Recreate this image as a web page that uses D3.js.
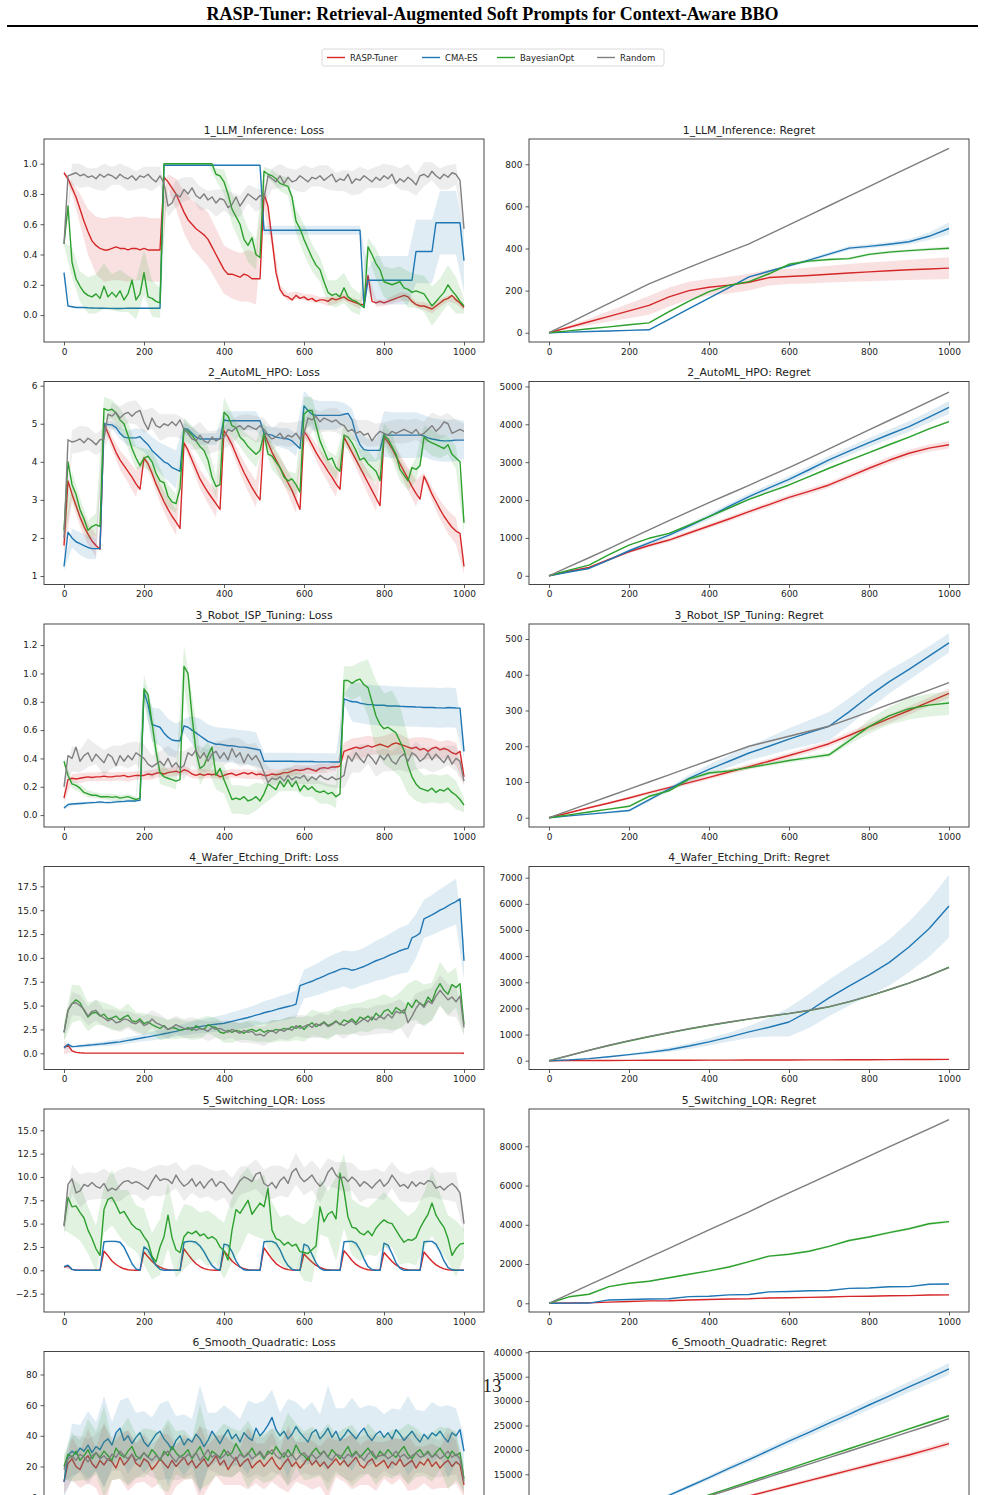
<!DOCTYPE html>
<html><head><meta charset="utf-8">
<script src="https://cdn.jsdelivr.net/npm/d3@7"></script>
<style>body{margin:0;background:#fff}svg{display:block}</style>
</head><body>
<svg id="c" width="985" height="1495"></svg>
<script>
const TITLE = "RASP-Tuner: Retrieval-Augmented Soft Prompts for Context-Aware BBO";
const methods = ["RASP-Tuner","CMA-ES","BayesianOpt","Random"];
const colors = ["#d62728","#1f77b4","#2ca02c","#7f7f7f"];
const tasks = ["1_LLM_Inference","2_AutoML_HPO","3_Robot_ISP_Tuning","4_Wafer_Etching_Drift","5_Switching_LQR","6_Smooth_Quadratic"];
const xTicks = [0,200,400,600,800,1000];
const lossSteps = d3.range(0,1001,10);
const lossSdSteps = d3.range(0,1001,20);
const regretSteps = d3.range(0,1001,50);

// ---------- Task 1 ----------
const p1LossRasp=[.94,.90,.84,.78,.70,.62,.55,.49,.46,.44,.43,.43,.44,.45,.44,.44,.43,.44,.44,.43,.44,.43,.43,.43,.43,.91,.88,.84,.80,.74,.68,.63,.60,.57,.55,.53,.50,.45,.40,.35,.30,.27,.27,.26,.25,.27,.26,.24,.24,.24,.80,.72,.50,.28,.17,.13,.12,.10,.13,.11,.12,.10,.11,.09,.10,.10,.09,.11,.10,.11,.12,.10,.09,.08,.07,.07,.26,.09,.08,.09,.08,.09,.10,.11,.12,.13,.12,.09,.07,.06,.06,.05,.04,.06,.08,.10,.11,.13,.10,.08,.05];
const p1LossRaspSd=[.01,.04,.10,.15,.19,.21,.21,.21,.21,.21,.21,.21,.21,.05,.10,.14,.16,.17,.18,.17,.16,.16,.16,.17,.17,.10,.05,.03,.025,.025,.02,.025,.02,.03,.025,.02,.025,.03,.02,.025,.02,.025,.03,.025,.02,.025,.03,.025,.02,.025,.02];
const p1LossCma=[.28,.06,.055,.05,.05,.05,.048,.047,.046,.045,.045,.044,.044,.043,.043,.044,.045,.045,.045,.045,.045,.045,.045,.045,.045,.99,.99,.99,.99,.99,.99,.99,.99,.99,.99,.99,.99,.99,.99,.99,.99,.99,.99,.99,.99,.99,.99,.99,.99,.99,.56,.56,.56,.56,.56,.56,.56,.56,.56,.56,.56,.56,.56,.56,.56,.56,.56,.56,.56,.56,.56,.56,.56,.56,.56,.05,.23,.23,.23,.23,.23,.23,.23,.23,.23,.23,.23,.23,.42,.42,.42,.42,.42,.61,.61,.61,.61,.61,.61,.61,.36];
const p1LossCmaSd=[.01,.005,.005,.005,.005,.005,.005,.005,.005,.005,.005,.005,.005,.003,.003,.003,.003,.003,.003,.003,.003,.003,.003,.003,.003,.03,.03,.03,.03,.03,.03,.03,.03,.03,.03,.03,.03,.03,.08,.16,.16,.16,.16,.16,.21,.21,.21,.21,.21,.21,.21];
const p1LossBo=[.47,.72,.35,.24,.19,.15,.13,.12,.14,.11,.19,.12,.15,.12,.16,.10,.14,.23,.10,.14,.28,.12,.11,.09,.08,1,1,1,1,1,1,1,1,1,1,1,1,1,.93,.92,.88,.80,.70,.65,.60,.50,.46,.51,.40,.38,.95,.93,.92,.90,.87,.86,.85,.78,.62,.57,.50,.44,.38,.33,.30,.22,.15,.13,.14,.12,.18,.12,.10,.09,.07,.05,.45,.40,.34,.30,.22,.21,.20,.21,.22,.18,.17,.15,.16,.15,.14,.10,.06,.09,.12,.15,.20,.16,.13,.09,.06];
const p1LossBoSd=[.01,.10,.10,.12,.13,.15,.12,.14,.12,.13,.15,.12,.10,.005,.005,.005,.005,.005,.005,.04,.08,.10,.12,.11,.10,.03,.04,.05,.06,.08,.10,.09,.08,.08,.09,.10,.08,.07,.06,.10,.10,.11,.10,.12,.11,.12,.13,.12,.13,.12,.05];
const p1LossRand=[.47,.92,.93,.94,.92,.93,.91,.92,.90,.93,.91,.93,.92,.90,.93,.91,.90,.92,.89,.92,.91,.93,.90,.88,.92,.87,.72,.74,.80,.78,.83,.80,.84,.79,.77,.80,.76,.78,.74,.77,.76,.71,.73,.78,.72,.76,.80,.78,.76,.79,.77,.92,.90,.88,.92,.87,.91,.88,.89,.92,.90,.88,.91,.90,.92,.89,.91,.93,.88,.90,.89,.93,.87,.90,.89,.92,.90,.88,.91,.89,.92,.90,.93,.87,.90,.88,.91,.89,.86,.92,.93,.91,.95,.92,.90,.93,.91,.94,.93,.89,.57];
const p1LossRandSd=[.02,.07,.08,.06,.07,.09,.06,.07,.08,.06,.07,.08,.06,.07,.09,.08,.07,.08,.06,.09,.07,.08,.07,.06,.08,.05,.07,.08,.06,.07,.09,.06,.07,.08,.06,.07,.08,.09,.06,.07,.08,.06,.07,.09,.07,.08,.06,.07,.08,.07,.02];
const p1RegRasp=[0,26,52,78,104,130,170,200,216,226,240,262,267,272,278,284,289,294,299,303,307];
const p1RegRaspSd=[0,8,15,25,35,45,45,42,40,40,40,38,36,38,40,42,44,46,48,50,52];
const p1RegCma=[0,3,6,8,11,14,64,114,164,214,265,292,318,345,373,402,410,420,432,458,495];
const p1RegCmaSd=[0,1,1,1,2,2,3,3,4,4,5,6,7,8,9,10,10,11,13,18,28];
const p1RegBo=[0,9,19,28,38,47,100,150,195,225,243,280,325,340,348,352,372,383,390,396,401];
const p1RegBoSd=[0,1,2,2,3,3,4,4,5,5,5,6,6,6,6,6,7,7,7,7,7];
const p1RegRand=[0,46,93,140,186,232,271,310,348,385,422,467,512,557,603,649,694,740,785,830,876];
const p1RegRandSd=[0,1,1,1,1,2,2,2,2,2,2,2,2,2,2,3,3,3,3,3,3];

// ---------- Task 2 ----------
const p2LossRasp=[1.8,3.5,3.15,2.85,2.55,2.3,2.1,1.92,1.8,1.7,5.0,4.75,4.5,4.25,4.05,3.9,3.75,3.6,3.42,3.28,4.1,3.95,3.7,3.42,3.18,2.95,2.75,2.57,2.42,2.25,4.5,4.3,4.05,3.8,3.55,3.37,3.2,3.05,2.9,2.75,4.82,4.65,4.45,4.2,3.95,3.72,3.52,3.32,3.15,3.0,4.75,4.5,4.25,4.05,3.85,3.65,3.45,3.25,3.0,2.75,4.8,4.65,4.45,4.25,4.08,3.92,3.75,3.6,3.42,3.28,4.65,4.45,4.25,4.05,3.85,3.65,3.45,3.25,3.05,2.85,4.65,4.52,4.35,4.15,3.95,3.75,3.55,3.35,3.17,3.02,3.62,3.4,3.15,2.95,2.75,2.57,2.42,2.28,2.18,2.12,1.25];
const p2LossRaspSd=[.3,.2,.25,.28,.3,.1,.18,.25,.3,.35,.1,.18,.25,.3,.35,.1,.18,.25,.3,.35,.1,.18,.25,.3,.35,.1,.18,.25,.3,.35,.1,.18,.25,.3,.35,.1,.18,.25,.3,.35,.1,.18,.25,.3,.35,.1,.18,.25,.3,.35,.2];
const p2LossCma=[1.25,2.15,2.0,1.9,1.85,1.8,1.75,1.72,1.72,1.72,5.0,4.98,4.97,4.9,4.75,4.65,4.63,4.63,4.63,4.66,4.55,4.45,4.3,4.2,4.1,4.0,3.95,3.85,3.8,3.75,4.88,4.85,4.75,4.65,4.6,4.6,4.6,4.6,4.6,4.6,5.1,5.08,5.08,5.08,5.08,5.08,5.08,5.08,5.08,5.08,4.75,4.72,4.7,4.65,4.63,4.62,4.6,4.55,4.45,4.35,5.47,5.35,5.25,5.22,5.22,5.22,5.22,5.22,5.22,5.22,5.25,5.27,5.1,4.7,4.45,4.32,4.3,4.3,4.3,4.3,4.73,4.7,4.7,4.7,4.7,4.7,4.7,4.7,4.7,4.7,4.68,4.63,4.6,4.58,4.56,4.55,4.55,4.56,4.57,4.57,4.57];
const p2LossCmaSd=[.1,.25,.3,.3,.28,.05,.1,.15,.2,.25,.3,.35,.4,.45,.5,.15,.15,.15,.15,.15,.25,.25,.25,.25,.25,.2,.22,.25,.28,.3,.4,.4,.38,.38,.38,.3,.3,.3,.3,.3,.6,.6,.6,.6,.6,.55,.55,.55,.55,.55,.5];
const p2LossBo=[2.2,4.0,3.4,3.15,2.75,2.5,2.2,2.3,2.35,2.3,5.4,5.35,5.38,5.28,5.1,5.0,4.7,4.35,4.1,3.9,4.1,4.15,4.0,3.7,3.5,3.45,3.1,2.95,2.9,3.3,4.85,4.8,4.7,4.55,4.4,4.3,4.05,3.6,3.35,3.4,5.3,5.2,4.95,4.9,4.65,4.55,4.4,4.3,4.2,4.3,4.75,4.2,4.15,4.0,3.85,3.6,3.5,3.55,3.4,3.2,5.25,5.35,5.35,4.95,4.55,4.3,4.05,4.1,3.85,3.75,4.7,4.65,4.5,4.3,4.05,4.1,3.95,3.85,3.75,3.5,4.7,4.6,4.4,4.2,3.8,3.65,3.5,3.85,3.8,3.9,4.65,4.55,4.5,4.45,4.4,4.35,4.45,4.2,4.1,4.0,2.4];
const p2LossBoSd=[.3,.35,.3,.25,.3,.3,.25,.3,.35,.3,.25,.3,.35,.3,.25,.3,.25,.3,.35,.3,.4,.3,.25,.3,.35,.3,.35,.3,.25,.3,.45,.35,.3,.25,.3,.3,.25,.3,.35,.3,.3,.35,.3,.25,.3,.3,.35,.3,.25,.3,.3];
const p2LossRand=[2.0,4.58,4.52,4.55,4.6,4.5,4.62,4.55,4.45,4.58,4.6,5.25,5.2,5.3,5.15,5.25,5.3,5.2,5.3,5.35,5.05,4.85,5.15,4.95,4.9,5.0,4.95,5.05,4.95,5.1,4.85,4.75,4.6,4.55,4.7,4.55,4.5,4.65,4.55,4.6,4.65,4.85,4.8,4.9,4.95,4.85,4.95,4.9,4.85,4.95,4.85,4.7,4.6,4.65,4.75,4.6,4.7,4.65,4.75,4.6,4.75,5.15,5.1,5.2,5.05,5.15,5.1,5.05,5.1,5.0,4.95,4.8,4.85,4.75,4.8,4.7,4.75,4.55,4.7,4.8,4.75,4.7,4.8,4.75,4.8,4.85,4.8,4.75,4.85,4.7,4.75,4.85,4.95,4.8,4.9,5.05,5.0,4.75,4.8,4.85,4.8];
const p2LossRandSd=[.2,.3,.35,.3,.28,.3,.35,.3,.28,.32,.3,.28,.35,.3,.3,.28,.3,.35,.3,.28,.3,.32,.28,.3,.35,.3,.28,.3,.32,.3,.35,.3,.28,.3,.32,.3,.28,.3,.35,.3,.28,.3,.32,.3,.28,.3,.35,.3,.28,.3,.2];
const p2RegRasp=[0,120,220,430,635,800,944,1130,1314,1500,1693,1880,2072,2230,2398,2620,2840,3050,3236,3370,3460];
const p2RegRaspSd=[0,10,20,30,40,50,55,60,60,65,65,70,70,75,75,80,85,90,90,95,100];
const p2RegCma=[0,100,194,420,661,870,1076,1310,1560,1830,2090,2320,2548,2800,3060,3290,3518,3730,3941,4190,4444];
const p2RegCmaSd=[0,10,20,30,40,50,60,70,80,80,80,90,90,100,100,110,120,130,140,150,170];
const p2RegBo=[0,150,282,560,811,990,1120,1340,1560,1790,2020,2210,2398,2620,2840,3050,3254,3460,3660,3880,4070];
const p2RegBoSd=[0,5,8,10,12,14,15,16,17,18,19,20,21,22,23,24,25,26,27,28,30];
const p2RegRand=[0,240,476,720,970,1215,1455,1695,1931,2160,2390,2625,2857,3100,3350,3600,3853,4100,4350,4600,4850];
const p2RegRandSd=[0,3,5,6,7,8,9,10,11,12,13,14,15,16,17,18,19,20,21,22,23];

// ---------- Task 3 ----------
const p3LossRasp=[.12,.25,.26,.255,.26,.265,.27,.265,.27,.27,.275,.27,.27,.275,.275,.28,.27,.275,.28,.28,.28,.29,.285,.295,.30,.29,.30,.305,.31,.30,.32,.31,.29,.28,.29,.28,.29,.285,.29,.27,.28,.29,.295,.28,.29,.30,.29,.30,.285,.29,.28,.28,.29,.285,.29,.30,.30,.31,.32,.315,.32,.33,.32,.31,.33,.335,.33,.34,.34,.345,.45,.46,.47,.48,.47,.48,.49,.48,.49,.50,.49,.48,.50,.51,.50,.49,.48,.47,.48,.46,.47,.45,.47,.48,.46,.47,.46,.44,.43,.45,.27];
const p3LossRaspSd=[.03,.03,.035,.03,.03,.035,.03,.03,.035,.03,.03,.035,.03,.03,.035,.03,.03,.035,.03,.03,.035,.03,.03,.035,.03,.03,.035,.03,.03,.035,.03,.03,.035,.03,.03,.06,.07,.08,.07,.06,.07,.08,.07,.06,.07,.08,.07,.06,.07,.08,.05];
const p3LossCma=[.05,.075,.078,.08,.082,.084,.086,.088,.09,.093,.09,.088,.09,.093,.095,.097,.1,.1,.1,.105,.87,.78,.64,.63,.62,.58,.55,.53,.525,.525,.63,.62,.60,.58,.56,.54,.52,.51,.50,.50,.495,.49,.49,.485,.48,.48,.475,.47,.465,.46,.38,.38,.38,.38,.38,.38,.38,.38,.378,.378,.378,.378,.378,.376,.376,.376,.376,.375,.375,.375,.82,.81,.80,.80,.79,.785,.78,.78,.775,.775,.775,.77,.77,.77,.768,.767,.765,.765,.763,.762,.76,.76,.76,.758,.757,.755,.76,.758,.756,.755,.45];
const p3LossCmaSd=[.01,.01,.01,.01,.01,.01,.01,.01,.01,.01,.05,.12,.13,.13,.12,.05,.1,.12,.12,.12,.12,.12,.12,.12,.12,.06,.06,.06,.06,.06,.06,.06,.06,.06,.06,.03,.14,.14,.14,.14,.14,.14,.14,.14,.14,.14,.14,.14,.14,.14,.05];
const p3LossBo=[.38,.28,.22,.21,.19,.16,.15,.14,.14,.13,.13,.13,.125,.13,.12,.125,.13,.12,.11,.12,.89,.85,.65,.45,.30,.27,.26,.25,.24,.25,1.05,1.0,.70,.45,.33,.35,.42,.48,.28,.33,.25,.18,.11,.12,.11,.13,.10,.11,.13,.10,.15,.22,.20,.18,.24,.20,.25,.20,.24,.17,.21,.18,.20,.17,.16,.17,.15,.16,.13,.15,.95,.95,.93,.95,.96,.92,.90,.80,.70,.64,.61,.62,.60,.58,.52,.46,.35,.27,.22,.19,.18,.17,.19,.16,.18,.17,.19,.16,.14,.11,.07];
const p3LossBoSd=[.02,.03,.03,.025,.02,.02,.025,.02,.02,.02,.1,.12,.08,.06,.06,.15,.15,.12,.1,.1,.1,.1,.1,.1,.1,.07,.08,.07,.08,.07,.08,.07,.08,.07,.08,.1,.12,.12,.2,.25,.25,.28,.25,.2,.12,.1,.1,.1,.1,.1,.05];
const p3LossRand=[.20,.42,.40,.48,.38,.42,.44,.38,.43,.40,.37,.43,.41,.35,.42,.38,.42,.39,.44,.42,.40,.36,.34,.36,.38,.35,.40,.34,.37,.33,.35,.44,.42,.46,.40,.44,.38,.43,.45,.40,.44,.39,.47,.41,.44,.37,.43,.39,.42,.37,.30,.23,.26,.25,.27,.24,.28,.25,.27,.26,.28,.24,.27,.25,.28,.26,.25,.27,.25,.26,.28,.42,.38,.44,.40,.37,.43,.40,.36,.42,.39,.43,.38,.36,.41,.43,.38,.44,.42,.38,.40,.44,.39,.43,.40,.37,.42,.36,.40,.38,.24];
const p3LossRandSd=[.03,.09,.08,.1,.07,.09,.08,.07,.09,.08,.1,.08,.07,.09,.08,.1,.07,.09,.08,.07,.09,.08,.1,.07,.09,.08,.05,.05,.06,.05,.06,.05,.06,.05,.06,.09,.08,.1,.07,.09,.08,.07,.09,.08,.1,.07,.09,.08,.07,.09,.03];
const p3RegRasp=[0,14,28,41,55,70,84,98,113,128,143,158,174,190,207,230,254,277,300,324,348];
const p3RegRaspSd=[0,1,2,3,4,5,5,6,6,7,7,7,8,8,8,10,11,12,12,12,13];
const p3RegCma=[0,5,10,15,20,50,80,110,135,158,181,200,220,238,256,296,340,380,415,452,489];
const p3RegCmaSd=[0,1,2,3,3,5,6,10,14,17,20,25,30,35,40,38,36,33,30,28,27];
const p3RegBo=[0,8,16,24,32,60,75,108,125,131,140,150,160,168,176,215,255,285,305,315,321];
const p3RegBoSd=[0,1,2,2,3,4,4,5,5,5,5,5,6,6,6,10,20,25,30,32,33];
const p3RegRand=[0,20,40,60,80,100,120,140,160,180,200,214,228,242,256,276,296,317,337,357,378];
const p3RegRandSd=[0,1,1,1,1,1,1,1,2,2,2,2,2,2,2,2,2,2,2,2,2];

// ---------- Task 4 ----------
const p4LossRasp=[.6,.85,.25,.1,.05,.03,.02,.02,.02,.02,.02,.02,.02,.02,.02,.02,.02,.02,.02,.02,.02,.02,.02,.02,.02,.02,.02,.02,.02,.02,.02,.02,.02,.02,.02,.02,.02,.02,.02,.02,.02,.02,.02,.02,.02,.02,.02,.02,.02,.02,.02,.02,.02,.02,.02,.02,.02,.02,.02,.02,.02,.02,.02,.02,.02,.02,.02,.02,.02,.02,.02,.02,.02,.02,.02,.02,.02,.02,.02,.02,.02,.02,.02,.02,.02,.02,.02,.02,.02,.02,.02,.02,.02,.02,.02,.02,.02,.02,.02,.02,0];
const p4LossRaspSd=[.7,.15,.03,.02,.02,.02,.02,.02,.02,.02,.02,.02,.02,.02,.02,.02,.02,.02,.02,.02,.02,.02,.02,.02,.02,.02,.02,.02,.02,.02,.02,.02,.02,.02,.02,.02,.02,.02,.02,.02,.02,.02,.02,.02,.02,.02,.02,.02,.02,.02,.02];
const p4LossCma=[.6,.95,.7,.72,.76,.8,.84,.88,.92,.96,1.0,1.05,1.1,1.15,1.2,1.28,1.35,1.42,1.5,1.57,1.65,1.72,1.8,1.88,1.96,2.05,2.13,2.22,2.3,2.4,2.5,2.58,2.65,2.72,2.8,2.87,2.93,3.0,3.05,3.1,3.15,3.25,3.35,3.45,3.55,3.65,3.75,3.87,4.0,4.1,4.25,4.35,4.45,4.57,4.7,4.8,4.9,5.0,5.15,7.1,7.25,7.4,7.55,7.75,7.9,8.1,8.3,8.45,8.6,8.8,8.9,8.85,8.7,8.8,8.95,9.1,9.3,9.5,9.7,9.85,10.0,10.2,10.4,10.55,10.75,10.9,11.0,12.1,12.3,12.6,14.1,14.3,14.5,14.75,15.0,15.2,15.45,15.7,15.9,16.2,9.7];
const p4LossCmaSd=[.2,.15,.15,.2,.2,.25,.3,.3,.35,.35,.4,.45,.5,.5,.55,.6,.65,.7,.75,.8,.9,.95,1.0,1.05,1.1,1.2,1.25,1.3,1.35,1.4,1.5,1.6,1.7,1.8,1.85,1.9,2.0,1.9,2.0,2.1,2.2,2.3,2.4,2.5,2.3,2.0,2.1,2.2,2.3,2.4,2.0];
const p4LossBo=[2.2,4.5,5.2,5.6,5.3,4.5,3.8,4.2,4.3,3.9,4.1,3.6,3.7,3.9,3.5,3.8,4.0,3.4,3.3,3.6,3.1,3.3,3.0,2.8,2.6,2.9,2.5,2.7,2.6,2.4,2.5,2.7,2.4,2.9,2.6,2.5,3.0,2.8,2.7,2.2,2.1,2.4,2.2,2.4,2.3,2.1,2.4,2.5,2.3,2.5,2.2,2.4,2.3,2.5,2.4,2.6,2.5,2.8,2.6,2.9,2.5,2.9,3.2,2.8,3.0,3.3,2.9,3.1,3.4,3.0,3.5,3.3,3.6,3.2,3.8,3.6,3.9,3.5,4.2,3.8,4.4,4.6,4.1,4.8,4.5,4.2,5.3,4.8,5.6,5.2,5.0,5.9,5.4,6.6,7.3,6.6,6.2,7.2,6.9,7.3,3.0];
const p4LossBoSd=[1.0,2.0,1.8,1.5,1.3,1.2,1.3,1.1,1.2,1.0,1.1,1.0,1.2,1.0,1.1,0.9,1.0,1.1,0.9,1.0,1.0,1.1,0.9,1.0,1.1,1.0,1.2,1.1,1.3,1.2,1.3,1.4,1.3,1.5,1.4,1.5,1.6,1.5,1.7,1.6,1.8,1.7,1.9,2.0,2.1,2.2,2.0,2.3,2.2,2.1,1.0];
const p4LossRand=[2.2,4.5,5.2,5.3,5.0,4.6,3.9,4.4,4.5,4.0,3.7,3.4,3.6,3.2,3.3,3.6,3.5,3.2,3.1,3.4,2.9,3.1,3.6,3.2,3.0,2.8,2.5,2.7,3.0,2.8,2.6,2.5,2.7,2.4,2.6,2.5,2.3,2.7,2.5,2.6,2.4,2.2,2.5,2.3,2.1,2.4,2.2,2.3,1.9,2.0,1.8,2.2,2.4,2.1,2.5,2.3,2.6,2.4,2.9,2.6,2.8,3.0,2.7,3.1,2.9,3.2,2.8,3.0,3.3,3.1,2.9,3.2,3.4,3.0,3.3,3.6,3.3,3.8,3.5,3.9,3.6,4.1,3.7,4.4,4.2,4.6,3.2,3.9,4.7,5.3,4.8,5.5,5.2,6.0,6.6,6.1,5.6,5.9,5.4,6.0,2.7];
const p4LossRandSd=[.8,1.2,1.1,1.0,1.1,0.9,1.0,1.1,0.9,1.0,1.0,0.9,1.1,1.0,0.9,1.0,1.1,0.9,1.0,0.9,1.0,0.9,1.0,1.1,0.9,1.0,1.1,1.0,1.2,1.1,1.2,1.1,1.3,1.2,1.3,1.4,1.3,1.5,1.4,1.5,1.5,1.6,1.5,1.7,1.6,1.8,1.7,1.6,1.7,1.6,0.8];
const p4RegRasp=[0,5,8,10,12,14,16,18,20,22,24,26,28,30,32,34,37,40,43,46,50];
const p4RegRaspSd=[0,1,1,1,2,2,2,2,3,3,3,3,3,4,4,4,4,4,5,5,5];
const p4RegCma=[0,30,80,150,230,320,420,560,720,900,1100,1280,1480,1900,2400,2850,3280,3750,4350,5050,5916];
const p4RegCmaSd=[0,5,15,25,40,60,85,110,140,170,230,350,550,650,700,750,800,880,970,1080,1200];
const p4RegBo=[0,195,395,580,755,915,1065,1210,1345,1470,1590,1700,1800,1920,2060,2250,2470,2715,2970,3255,3580];
const p4RegBoSd=[0,5,8,10,12,14,16,18,20,22,24,26,28,30,32,34,36,38,40,42,45];
const p4RegRand=[0,200,400,590,765,930,1080,1225,1360,1480,1600,1710,1810,1930,2070,2260,2480,2720,2970,3250,3557];
const p4RegRandSd=[0,3,5,6,7,8,9,10,11,12,13,14,15,16,17,18,19,20,21,22,23];

// ---------- Task 5 ----------
const p5LossRasp=[.35,.45,.1,.02,0,0,0,0,0,0,2.05,1.55,1.0,.62,.35,.16,.06,.02,0,0,1.95,1.45,.97,.58,.33,.15,.06,.02,0,0,2.3,1.7,1.15,.7,.4,.18,.07,.02,0,0,2.05,1.55,1.0,.62,.35,.16,.06,.02,0,0,2.4,1.8,1.2,.72,.41,.19,.07,.02,0,0,1.75,1.3,.88,.52,.3,.14,.05,.02,0,0,2.1,1.6,1.05,.63,.36,.17,.06,.02,0,0,1.9,1.42,.95,.57,.32,.15,.06,.02,0,0,1.95,1.45,.97,.58,.33,.15,.06,.02,0,0,0];
const p5LossRaspSd=[.1,.05,.03,.02,.02,.12,.08,.04,.02,.02,.12,.08,.04,.02,.02,.12,.08,.04,.02,.02,.12,.08,.04,.02,.02,.12,.08,.04,.02,.02,.12,.08,.04,.02,.02,.12,.08,.04,.02,.02,.12,.08,.04,.02,.02,.12,.08,.04,.02,.02,.02];
const p5LossCma=[.4,.55,.1,0,0,0,0,0,0,0,3.05,3.1,3.1,3.1,3.0,2.5,1.6,.7,.15,0,2.5,2.2,1.3,.5,.1,0,0,0,0,0,3.0,3.1,3.1,3.0,2.6,2.0,1.2,.5,.15,0,2.8,2.7,2.0,1.0,.35,.05,0,0,0,0,3.05,3.1,3.1,2.9,2.2,1.2,.5,.1,0,0,2.8,2.6,1.7,.8,.2,0,0,0,0,0,3.05,3.1,3.1,2.9,2.2,1.2,.4,.05,0,0,2.9,2.7,1.8,.8,.2,0,0,0,0,0,3.05,3.1,3.1,2.8,2.0,1.0,.3,.05,0,0,0];
const p5LossCmaSd=[.1,.05,.02,.02,.02,.1,.12,.15,.15,.05,.15,.1,.05,.02,.02,.1,.12,.15,.15,.05,.15,.1,.05,.02,.02,.1,.12,.15,.15,.05,.15,.1,.05,.02,.02,.1,.12,.15,.15,.05,.15,.1,.05,.02,.02,.1,.12,.15,.15,.05,.02];
const p5LossBo=[4.8,7.8,6.8,6.9,6.2,5.6,4.3,3.4,2.3,1.6,6.5,7.6,7.8,7.0,6.1,6.3,5.6,4.9,4.5,4.3,3.6,3.0,1.5,0.9,2.5,3.6,5.9,3.5,2.2,1.9,3.6,4.1,3.9,4.2,3.7,3.9,3.4,3.6,3.3,2.5,2.1,1.1,4.3,6.5,6.1,6.8,7.5,6.0,6.6,7.2,6.8,8.8,4.3,3.4,3.2,2.7,3.0,2.6,2.8,2.0,1.9,1.8,2.2,2.6,6.8,5.2,6.0,6.3,5.5,10.4,8.5,5.7,4.6,4.5,4.0,3.8,4.2,3.7,4.5,5.0,5.4,5.1,5.0,4.3,3.6,3.0,3.3,3.2,3.5,4.5,5.3,6.0,7.2,5.9,5.2,4.6,3.4,1.6,2.3,2.8,2.9];
const p5LossBoSd=[.5,3,3,2.5,2.5,2.5,3,2.5,3,2.5,3,2.5,3,3.5,3,3.5,3,2.5,3,2.5,3,3.5,4,3.5,3,3.5,3,2.5,3,2.5,3,3.5,3,2.5,4.5,4,3,3,2.5,3,3,2.5,3,2.5,3,3,3.5,3,2.5,3,1.5];
const p5LossRand=[4.7,9.2,9.8,8.3,8.5,9.2,9.0,9.4,9.0,8.8,9.3,8.5,8.8,8.6,9.1,9.5,9.6,9.3,9.5,9.3,9.0,8.7,9.5,10.2,9.6,9.8,9.7,9.3,10.2,9.5,9.0,9.3,9.8,9.0,9.5,8.8,9.4,9.8,9.0,9.5,9.3,8.7,8.2,8.9,9.6,10.0,9.8,9.5,10.3,10.5,9.3,9.0,9.4,8.8,9.6,10.0,9.3,10.5,10.9,10.0,9.5,9.8,10.2,9.5,9.0,9.5,10.5,11.0,10.2,9.8,10.0,9.5,10.0,9.6,9.0,9.5,9.2,8.8,9.3,9.7,9.0,9.4,10.2,9.6,9.0,9.2,8.8,9.5,9.0,9.4,9.2,9.6,9.5,8.8,9.0,8.6,9.0,9.3,8.9,8.3,5.0];
const p5LossRandSd=[1,1.5,1.8,1.5,1.4,1.6,1.5,1.7,1.5,1.4,1.6,1.5,1.7,1.5,1.4,1.6,1.5,1.8,1.5,1.6,1.5,1.7,1.5,1.4,1.6,1.5,1.8,1.6,1.5,1.7,1.5,1.6,1.8,1.5,1.4,1.6,1.5,1.7,1.5,1.6,1.5,1.4,1.6,1.5,1.7,1.5,1.6,1.4,1.5,1.6,1];
const p5RegRasp=[0,10,20,60,90,120,130,170,190,220,230,270,280,300,320,350,360,380,390,420,430];
const p5RegRaspSd=[0,2,4,5,6,7,8,9,10,10,11,11,12,12,13,13,14,14,15,15,16];
const p5RegCma=[0,5,10,170,190,220,230,340,360,430,450,580,600,640,650,760,780,840,850,970,980];
const p5RegCmaSd=[0,2,3,6,8,10,10,12,12,14,14,15,15,16,16,17,17,18,18,20,20];
const p5RegBo=[0,330,460,850,1020,1120,1300,1480,1650,1850,2120,2400,2500,2650,2900,3200,3380,3600,3800,4050,4160];
const p5RegBoSd=[0,15,20,25,30,35,40,40,45,45,50,50,55,55,60,60,60,65,65,70,70];
const p5RegRand=[0,470,935,1400,1868,2335,2800,3270,3737,4200,4660,5150,5620,6090,6560,7030,7500,7970,8430,8890,9355];
const p5RegRandSd=[0,10,15,18,20,22,24,26,28,30,32,34,36,38,40,42,44,46,48,50,52];

// ---------- Task 6 ----------
const p6LossRasp=[10,22,25,20,18,24,27,22,19,24,21,25,23,19,26,21,24,28,22,20,25,23,18,21,25,22,19,24,20,23,26,21,24,19,22,25,20,23,27,21,24,18,22,26,20,23,25,19,22,24,20,23,26,21,18,22,25,20,23,19,22,26,21,24,20,23,19,22,25,21,24,20,23,26,21,19,23,25,20,22,24,19,23,21,25,20,22,24,19,23,21,25,20,23,19,22,24,20,23,21,8];
const p6LossRaspSd=[8,14,12,18,13,28,12,14,20,13,15,12,16,22,13,15,12,25,14,13,16,14,12,20,13,15,16,12,22,13,14,16,13,20,12,14,18,13,15,16,12,15,13,18,14,12,15,13,18,14,8];
const p6LossCma=[10,27,30,28,32,30,34,29,33,31,36,38,34,42,45,37,40,35,39,42,36,33,37,41,43,38,35,31,37,40,34,38,36,41,38,33,37,43,39,35,40,44,38,41,36,42,39,37,45,40,43,47,52,44,40,43,38,41,46,42,39,36,42,44,38,41,45,39,43,37,40,44,41,38,42,45,40,37,41,43,39,42,38,44,41,37,40,43,39,36,41,38,42,40,43,39,36,42,40,44,30];
const p6LossCmaSd=[10,18,15,22,16,30,15,18,25,16,20,15,18,28,16,20,15,35,18,16,20,18,15,24,16,20,18,15,26,16,18,20,16,28,15,18,24,16,20,18,15,20,16,26,18,15,20,16,24,18,10];
const p6LossBo=[20,28,26,30,24,27,31,25,29,26,30,27,24,32,28,26,30,33,27,25,29,26,31,28,24,30,27,33,29,26,28,31,25,29,33,27,24,30,28,26,31,27,29,35,30,26,28,32,27,29,25,30,28,33,29,26,31,27,34,29,27,24,29,32,28,30,26,31,28,25,29,33,27,30,26,29,32,28,25,30,27,31,28,26,30,33,28,25,29,31,27,30,26,29,32,28,25,30,27,29,12];
const p6LossBoSd=[8,16,13,20,14,30,13,16,22,14,16,13,18,24,14,16,13,28,16,14,17,16,13,22,14,16,17,13,24,14,16,17,14,22,13,16,20,14,16,17,13,16,14,20,16,13,16,14,20,16,8];
const p6LossRand=[18,25,27,24,28,26,23,27,29,25,27,24,28,26,30,27,25,28,24,26,29,26,24,27,25,28,30,26,23,27,25,28,26,29,24,27,31,26,28,25,27,30,26,24,28,26,29,25,27,30,26,28,31,27,25,29,26,28,24,27,29,26,28,25,27,30,26,24,28,27,25,28,26,29,27,24,28,30,26,27,28,25,27,30,26,28,25,27,29,26,27,29,26,28,25,27,30,26,28,25,10];
const p6LossRandSd=[8,13,12,15,12,20,11,13,18,12,13,11,14,18,12,13,11,22,13,12,14,13,11,17,12,13,14,11,18,12,13,14,12,17,11,13,16,12,13,14,11,13,12,16,13,11,13,12,16,13,8];
const p6RegRasp=[0,1070,2140,3200,4250,5300,6350,7400,8450,9500,10550,11600,12650,13700,14750,15800,16850,17900,18950,20100,21300];
const p6RegRaspSd=[0,30,60,90,120,150,180,210,240,270,300,330,360,390,420,450,480,510,540,570,600];
const p6RegCma=[0,1750,3500,5300,7100,8900,10700,12500,14300,16200,18000,19900,21800,23600,25500,27300,29200,31000,32900,34700,36600];
const p6RegCmaSd=[0,60,120,180,240,300,360,420,480,540,600,660,720,780,840,900,960,1020,1080,1140,1200];
const p6RegBo=[0,1330,2680,4020,5380,6720,8080,9430,10780,12120,13480,14830,16180,17540,18880,20240,21590,22940,24300,25660,27000];
const p6RegBoSd=[0,15,30,45,60,75,90,105,120,135,150,165,180,195,210,225,240,255,270,285,300];
const p6RegRand=[0,1300,2620,3930,5250,6560,7880,9200,10520,11830,13150,14460,15780,17100,18420,19730,21050,22360,23680,25000,26400];
const p6RegRandSd=[0,10,20,30,40,50,60,70,80,90,100,110,120,130,140,150,160,170,180,190,200];

// axis settings
const lossDomains=[[-0.178,1.163],[0.777,6.11],[-0.084,1.349],[-1.70,19.58],[-4.47,17.28],[-37.4,95.0]];
const lossTicks=[[0,.2,.4,.6,.8,1.0],[1,2,3,4,5,6],[0,.2,.4,.6,.8,1.0,1.2],[0,2.5,5,7.5,10,12.5,15,17.5],[-2.5,0,2.5,5,7.5,10,12.5,15],[0,20,40,60,80]];
const lossFmt=[".1f","d",".1f",".1f",".1f","d"];
const regretDomains=[[-44,920],[-230,5130],[-26,542],[-337,7428],[-445,9900],[-1434,40164]];
const regretTicks=[[0,200,400,600,800],[0,1000,2000,3000,4000,5000],[0,100,200,300,400,500],[0,1000,2000,3000,4000,5000,6000,7000],[0,2000,4000,6000,8000],[0,5000,10000,15000,20000,25000,30000,35000,40000]];

const lossData=[
 [[p1LossRasp,p1LossCma,p1LossBo,p1LossRand],[p1LossRaspSd,p1LossCmaSd,p1LossBoSd,p1LossRandSd]],
 [[p2LossRasp,p2LossCma,p2LossBo,p2LossRand],[p2LossRaspSd,p2LossCmaSd,p2LossBoSd,p2LossRandSd]],
 [[p3LossRasp,p3LossCma,p3LossBo,p3LossRand],[p3LossRaspSd,p3LossCmaSd,p3LossBoSd,p3LossRandSd]],
 [[p4LossRasp,p4LossCma,p4LossBo,p4LossRand],[p4LossRaspSd,p4LossCmaSd,p4LossBoSd,p4LossRandSd]],
 [[p5LossRasp,p5LossCma,p5LossBo,p5LossRand],[p5LossRaspSd,p5LossCmaSd,p5LossBoSd,p5LossRandSd]],
 [[p6LossRasp,p6LossCma,p6LossBo,p6LossRand],[p6LossRaspSd,p6LossCmaSd,p6LossBoSd,p6LossRandSd]]];
const regretData=[
 [[p1RegRasp,p1RegCma,p1RegBo,p1RegRand],[p1RegRaspSd,p1RegCmaSd,p1RegBoSd,p1RegRandSd]],
 [[p2RegRasp,p2RegCma,p2RegBo,p2RegRand],[p2RegRaspSd,p2RegCmaSd,p2RegBoSd,p2RegRandSd]],
 [[p3RegRasp,p3RegCma,p3RegBo,p3RegRand],[p3RegRaspSd,p3RegCmaSd,p3RegBoSd,p3RegRandSd]],
 [[p4RegRasp,p4RegCma,p4RegBo,p4RegRand],[p4RegRaspSd,p4RegCmaSd,p4RegBoSd,p4RegRandSd]],
 [[p5RegRasp,p5RegCma,p5RegBo,p5RegRand],[p5RegRaspSd,p5RegCmaSd,p5RegBoSd,p5RegRandSd]],
 [[p6RegRasp,p6RegCma,p6RegBo,p6RegRand],[p6RegRaspSd,p6RegCmaSd,p6RegBoSd,p6RegRandSd]]];

const PAGE_H = 1495;
const svg = d3.select("#c");
const defs = svg.append("defs");
const FONT = "DejaVu Sans, sans-serif";
svg.append("rect").attr("width",985).attr("height",PAGE_H).attr("fill","#fff");

svg.append("text").attr("x",492.5).attr("y",19.5).attr("text-anchor","middle")
  .attr("font-family","Liberation Serif, Times New Roman, serif").attr("font-weight","bold")
  .attr("font-size",18).attr("textLength",572).attr("lengthAdjust","spacingAndGlyphs").attr("fill","#000").text(TITLE);
svg.append("line").attr("x1",7).attr("x2",978).attr("y1",26).attr("y2",26).attr("stroke","#000").attr("stroke-width",1.8);

// legend
const lg = svg.append("g");
lg.append("rect").attr("x",322).attr("y",49).attr("width",342).attr("height",17).attr("rx",2)
  .attr("fill","#fff").attr("stroke","#d0d0d0").attr("stroke-width",0.8);
const legX=[327,422,497,597];
methods.forEach((m,i)=>{
  lg.append("line").attr("x1",legX[i]).attr("x2",legX[i]+18).attr("y1",57.5).attr("y2",57.5)
    .attr("stroke",colors[i]).attr("stroke-width",1.4);
  lg.append("text").attr("x",legX[i]+23).attr("y",60.5).attr("font-family",FONT).attr("font-size",8.5)
    .attr("fill","#222").text(m);
});

const minusFmt = f => v => d3.format(f)(v).replace("-","\u2212");

function panel(col,row,title,dom,ticks,fmt,means,sds,mx){
  const W=440,H=203, x0 = col ? 529 : 44, y0 = 139 + row*242.5;
  const x = d3.scaleLinear().domain([-50,1050]).range([x0,x0+W]);
  const y = d3.scaleLinear().domain(dom).range([y0+H,y0]);
  const id = `clip${row}_${col}`;
  defs.append("clipPath").attr("id",id).append("rect").attr("x",x0).attr("y",y0).attr("width",W).attr("height",H);
  const g = svg.append("g").attr("clip-path",`url(#${id})`);
  means.forEach((m,i)=>{
    const s = sds[i];
    const r = Math.round((m.length-1)/(s.length-1));
    const band = s.map((v,j)=>({t:mx[j*r], lo:m[j*r]-v, hi:m[j*r]+v}));
    g.append("path").datum(band)
      .attr("d", d3.area().x(d=>x(d.t)).y0(d=>y(d.lo)).y1(d=>y(d.hi)))
      .attr("fill",colors[i]).attr("fill-opacity",0.14).attr("stroke","none");
    g.append("path").datum(m.map((v,k)=>[mx[k],v]))
      .attr("d", d3.line().x(d=>x(d[0])).y(d=>y(d[1])))
      .attr("fill","none").attr("stroke",colors[i]).attr("stroke-width",1.4).attr("stroke-linejoin","round");
  });
  const axes = [];
  if (y0 + H < PAGE_H) {
    axes.push(svg.append("g").attr("transform",`translate(0,${y0+H})`)
      .call(d3.axisBottom(x).tickValues(xTicks).tickSize(3.5).tickPadding(3).tickFormat(d3.format("d"))));
  }
  const visTicks = ticks.filter(v => y(v) < PAGE_H + 4);
  axes.push(svg.append("g").attr("transform",`translate(${x0},0)`)
    .call(d3.axisLeft(y).tickValues(visTicks).tickSize(3.5).tickPadding(3).tickFormat(minusFmt(fmt))));
  axes.forEach(a=>{
    a.select(".domain").remove();
    a.selectAll("line").attr("stroke","#333").attr("stroke-width",0.8);
    a.selectAll("text").attr("font-family",FONT).attr("font-size",9).attr("fill","#222");
  });
  svg.append("rect").attr("x",x0).attr("y",y0).attr("width",W).attr("height",H)
    .attr("fill","none").attr("stroke","#333").attr("stroke-width",0.9);
  svg.append("text").attr("x",x0+W/2).attr("y",y0-5.5).attr("text-anchor","middle")
    .attr("font-family",FONT).attr("font-size",10.8).attr("fill","#222").text(title);
}

tasks.forEach((t,r)=>{
  panel(0,r,t+": Loss",lossDomains[r],lossTicks[r],lossFmt[r],lossData[r][0],lossData[r][1],lossSteps);
  panel(1,r,t+": Regret",regretDomains[r],regretTicks[r],"d",regretData[r][0],regretData[r][1],regretSteps);
});

svg.append("text").attr("x",492).attr("y",1392).attr("text-anchor","middle")
  .attr("font-family","Liberation Serif, Times New Roman, serif").attr("font-size",19).attr("fill","#222").text("13");
</script>
</body></html>
